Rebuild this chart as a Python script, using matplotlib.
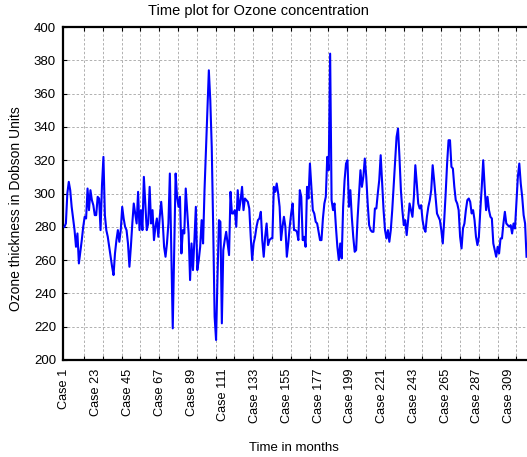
import matplotlib
matplotlib.use("Agg")
import matplotlib.pyplot as plt
import numpy as np

plt.rcParams["font.family"] = ["Liberation Sans", "DejaVu Sans"]

# Monthly total ozone (Dobson Units)
ozone = [
    280, 282, 300, 307, 302, 292, 285, 278, 268, 276, 258, 265, 272, 280, 286, 285, 303, 290, 302, 296,
    293, 287, 287, 298, 297, 278, 305, 322, 287, 278, 274, 268, 262, 256, 251, 264, 272, 278, 271, 278,
    292, 285, 280, 278, 270, 256, 268, 282, 294, 288, 282, 301, 278, 290, 278, 310, 294, 278, 282, 304,
    282, 290, 272, 280, 285, 274, 286, 295, 284, 268, 262, 270, 282, 312, 265, 219, 265, 312, 298, 292,
    298, 264, 278, 276, 303, 290, 276, 248, 270, 254, 272, 292, 254, 260, 268, 284, 270, 302, 326, 350,
    374, 356, 328, 280, 226, 212, 250, 284, 283, 222, 266, 272, 277, 270, 263, 301, 288, 288, 290, 280,
    302, 290, 296, 304, 290, 297, 296, 295, 291, 274, 260, 270, 274, 280, 284, 285, 289, 272, 262, 274,
    282, 269, 272, 273, 273, 304, 301, 306, 300, 292, 272, 280, 286, 280, 262, 270, 280, 288, 294, 278,
    278, 277, 272, 302, 298, 272, 274, 268, 304, 297, 318, 304, 290, 288, 283, 282, 277, 272, 272, 285,
    294, 298, 322, 314, 384, 296, 290, 294, 280, 268, 260, 270, 261, 292, 308, 318, 320, 292, 302, 286,
    274, 265, 266, 285, 300, 314, 304, 310, 321, 310, 294, 281, 278, 277, 277, 291, 291, 300, 308, 323,
    306, 290, 278, 273, 278, 271, 278, 290, 305, 320, 334, 339, 322, 302, 290, 281, 284, 275, 284, 294,
    290, 286, 298, 317, 306, 294, 291, 293, 284, 279, 277, 286, 292, 296, 302, 317, 308, 298, 288, 286,
    284, 278, 270, 284, 300, 318, 332, 332, 316, 315, 304, 296, 294, 290, 274, 267, 279, 282, 290, 296,
    297, 295, 288, 290, 284, 274, 269, 274, 290, 304, 320, 304, 290, 298, 290, 286, 285, 270, 266, 262,
    268, 264, 273, 273, 282, 289, 282, 281, 280, 281, 276, 282, 279, 294, 310, 318, 306, 298, 287, 282,
    262,
]
case_numbers = [1, 23, 45, 67, 89, 111, 133, 155, 177, 199, 221, 243, 265, 287, 309]
case_labels = ["Case 1", "Case 23", "Case 45", "Case 67", "Case 89", "Case 111", "Case 133",
               "Case 155", "Case 177", "Case 199", "Case 221", "Case 243", "Case 265",
               "Case 287", "Case 309"]
y_ticks = [200, 220, 240, 260, 280, 300, 320, 340, 360, 380, 400]

W, H = 527, 457
fig = plt.figure(figsize=(W / 100, H / 100), dpi=100)
x_left, x_right = 63, 532.3
y_top, y_bottom = 27, 360
ax = fig.add_axes([x_left / W, 1 - y_bottom / H, (x_right - x_left) / W, (y_bottom - y_top) / H])

cases = np.arange(1, len(ozone) + 1)
ax.plot(cases, ozone, color="#0000ff", lw=1.5, zorder=3)

ax.set_xlim(0, 325)
ax.set_ylim(200, 400)

# grid / tick positions along the case axis
grid_x = 14.5 + 13.02 * np.arange(0, 24)
ax.set_xticks(grid_x)
ax.set_xticklabels([])
ax.set_xticks(case_numbers, minor=True)
ax.set_xticklabels(case_labels, minor=True, rotation=90, fontsize=9.2)
ax.tick_params(axis="x", which="major", direction="in", length=3, width=0.8, top=True)
ax.tick_params(axis="x", which="minor", length=0, pad=6)

ax.set_yticks(y_ticks)
ax.set_yticklabels([str(v) for v in y_ticks], fontsize=9.5)
ax.tick_params(axis="y", which="major", direction="in", length=3, width=0.8, pad=5)

ax.grid(True, which="major", color="#b0b0b0", linestyle=(0, (2.5, 2)), linewidth=0.7, zorder=0)

for side in ("left", "bottom", "top", "right"):
    ax.spines[side].set_linewidth(1.6)
    ax.spines[side].set_color("black")

fig.text(258 / W, 1 - 11 / H, "Time plot for Ozone concentration", ha="center", va="center",
         fontsize=10.5)
fig.text(294 / W, 1 - 448 / H, "Time in months", ha="center", va="center", fontsize=9.5)
fig.text(16 / W, 1 - 209 / H, "Ozone thickness in Dobson Units", ha="center", va="center",
         rotation=90, fontsize=10)

fig.savefig("out.png", dpi=100)
